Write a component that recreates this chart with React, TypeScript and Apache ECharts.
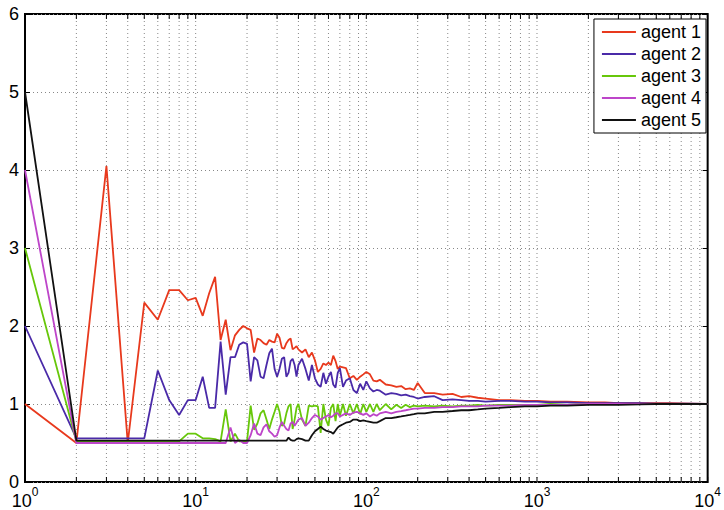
import React, { useEffect, useRef } from "react";
import * as echarts from "echarts";

const xs = [
  1, 2, 3, 4, 5, 6, 7, 8, 9, 10,
  11, 12, 13, 14, 15, 16, 17, 18, 19, 20,
  21, 22, 23, 24, 25, 26, 27, 28, 29, 30,
  31, 32, 33, 34, 35, 36, 37, 38, 39, 40,
  42, 44, 46, 48, 50, 52, 54, 56, 58, 60,
  62, 64, 66, 68, 70, 73, 76, 80, 84, 88,
  92, 96, 100, 105, 110, 115, 120, 130, 140, 150,
  160, 170, 180, 190, 200, 220, 250, 280, 320, 360,
  400, 450, 500, 600, 700, 850, 1000, 1200, 1500, 2000,
  2500, 3000, 4000, 5000, 6000, 8000, 10000,
];

const agent1 = [
  1.0, 0.5, 4.05, 0.5, 2.3, 2.08, 2.46, 2.46, 2.33, 2.36,
  2.13, 2.42, 2.63, 1.82, 2.08, 1.69, 1.88, 1.95, 2.0, 1.97,
  1.95, 1.66, 1.84, 1.82, 1.78, 1.76, 1.82, 1.8, 1.79, 1.9,
  1.85, 1.72, 1.71, 1.78, 1.82, 1.84, 1.7, 1.72, 1.74, 1.7,
  1.66, 1.7, 1.6, 1.66, 1.56, 1.41, 1.45, 1.52, 1.5, 1.53,
  1.5, 1.62, 1.55, 1.45, 1.48, 1.47, 1.46, 1.33, 1.36, 1.31,
  1.35, 1.38, 1.41, 1.38, 1.3, 1.29, 1.31, 1.25, 1.24, 1.22,
  1.23, 1.19, 1.2, 1.18, 1.27, 1.14, 1.14, 1.12, 1.13, 1.09,
  1.1, 1.08, 1.07, 1.05, 1.05, 1.04, 1.04, 1.03, 1.03, 1.02,
  1.02, 1.01, 1.01, 1.01, 1.01, 1.005, 1.0,
];

const agent2 = [
  2.0, 0.56, 0.56, 0.56, 0.56, 1.43, 1.05, 0.86, 1.05, 1.05,
  1.35, 0.95, 0.95, 1.8, 1.12, 1.6, 1.6, 1.76, 1.79, 1.77,
  1.29, 1.6, 1.56, 1.35, 1.33, 1.5, 1.65, 1.71, 1.45, 1.35,
  1.45, 1.58, 1.6, 1.35, 1.4, 1.55, 1.58, 1.5, 1.35, 1.5,
  1.58, 1.45, 1.3, 1.5, 1.33, 1.25, 1.22, 1.4, 1.26, 1.35,
  1.41, 1.25, 1.21, 1.4, 1.46, 1.22, 1.3, 1.33, 1.18, 1.14,
  1.26, 1.18, 1.29, 1.2, 1.16, 1.18, 1.17, 1.12, 1.14, 1.13,
  1.11, 1.12, 1.1, 1.09, 1.07, 1.09, 1.1, 1.05, 1.06, 1.05,
  1.04, 1.04, 1.03, 1.04, 1.04, 1.03, 1.03, 1.02, 1.02, 1.01,
  1.01, 1.01, 1.01, 1.005, 1.005, 1.005, 1.0,
];

const agent3 = [
  3.0, 0.52, 0.52, 0.52, 0.52, 0.52, 0.52, 0.52, 0.62, 0.62,
  0.56, 0.56, 0.55, 0.52, 0.93, 0.52, 0.62, 0.52, 0.52, 0.52,
  0.98, 0.67, 0.75, 0.88, 0.92, 0.8, 0.68, 0.8, 0.9, 1.0,
  0.9, 0.72, 0.75, 0.88, 0.97, 1.0, 0.68, 0.8, 0.95, 1.0,
  0.8, 0.72, 0.98, 0.97, 0.98, 0.97, 0.63, 1.0, 0.8, 0.72,
  0.95, 1.0, 0.78, 1.0, 0.85, 1.0, 0.85, 1.0, 0.88, 1.0,
  0.87, 1.0, 0.9, 1.0, 0.9, 1.0, 0.92, 1.0, 0.93, 0.99,
  0.95, 0.99, 0.96, 0.98, 0.97, 0.98, 0.97, 0.98, 0.97, 0.98,
  0.98, 0.99, 0.98, 0.99, 0.99, 0.99, 0.99, 1.0, 0.99, 1.0,
  1.0, 1.0, 1.0, 1.0, 1.0, 1.0, 1.0,
];

const agent4 = [
  4.0, 0.5, 0.5, 0.5, 0.5, 0.5, 0.5, 0.5, 0.5, 0.5,
  0.5, 0.5, 0.5, 0.5, 0.5, 0.7, 0.5, 0.54, 0.5, 0.5,
  0.6, 0.75, 0.62, 0.6, 0.7, 0.74, 0.65, 0.62, 0.58, 0.6,
  0.7, 0.77, 0.72, 0.68, 0.66, 0.75, 0.77, 0.72, 0.76, 0.8,
  0.82, 0.72, 0.76, 0.82, 0.86, 0.84, 0.8, 0.82, 0.84, 0.86,
  0.83, 0.85, 0.88, 0.88, 0.84, 0.86, 0.88, 0.86, 0.89, 0.9,
  0.88, 0.86, 0.88, 0.84, 0.87, 0.85, 0.88, 0.9, 0.88, 0.9,
  0.91, 0.92, 0.93, 0.94, 0.94, 0.95, 0.95, 0.96, 0.96, 0.97,
  0.97, 0.97, 0.98, 0.98, 0.98, 0.99, 0.99, 0.99, 0.99, 1.0,
  1.0, 1.0, 1.0, 1.0, 1.0, 1.0, 1.0,
];

const agent5 = [
  5.0, 0.53, 0.53, 0.53, 0.53, 0.53, 0.53, 0.53, 0.53, 0.53,
  0.53, 0.53, 0.53, 0.53, 0.53, 0.53, 0.53, 0.53, 0.53, 0.53,
  0.53, 0.53, 0.53, 0.53, 0.53, 0.53, 0.53, 0.53, 0.53, 0.53,
  0.53, 0.53, 0.53, 0.53, 0.57, 0.54, 0.53, 0.53, 0.55, 0.56,
  0.55, 0.53, 0.53, 0.6, 0.65, 0.68, 0.71, 0.68, 0.66, 0.65,
  0.64, 0.62, 0.66, 0.7, 0.72, 0.74, 0.76, 0.77, 0.8, 0.8,
  0.78, 0.79, 0.78, 0.77, 0.76, 0.76, 0.78, 0.82, 0.82, 0.83,
  0.84, 0.85, 0.86, 0.87, 0.88, 0.88, 0.9, 0.9, 0.91, 0.92,
  0.92, 0.93, 0.94, 0.95, 0.96, 0.97, 0.97, 0.98, 0.98, 0.99,
  0.99, 0.99, 0.995, 1.0, 1.0, 1.0, 1.0,
];

const seriesNames = ["agent 1", "agent 2", "agent 3", "agent 4", "agent 5"];
const seriesValues = [agent1, agent2, agent3, agent4, agent5];
const seriesColors = ["#e8391d", "#4a2aa8", "#67c70a", "#bd45c9", "#111111"];

const yMin = 0;
const yMax = 6;
const xMin = 1;
const xMax = 10000;

// positions of the log grid lines (1..9 per decade)
const gridXs: number[] = [];
for (let d = 1; d <= 1000; d *= 10) {
  for (let m = 1; m <= 9; m++) gridXs.push(d * m);
}
gridXs.push(10000);

const FONT = "'Liberation Sans', Arial, Helvetica, sans-serif";

export default function App() {
  const ref = useRef<HTMLDivElement>(null);

  useEffect(() => {
    if (!ref.current) return;
    const chart = echarts.init(ref.current, null, { renderer: "svg" });

    const lineSeries = seriesNames.map((name, i) => ({
      name,
      type: "line",
      data: xs.map((x, j) => [x, seriesValues[i][j]]),
      showSymbol: false,
      symbol: "none",
      silent: true,
      lineStyle: { color: seriesColors[i], width: 1.8 },
      itemStyle: { color: seriesColors[i] },
      z: 3,
    }));

    chart.setOption({
      animation: false,
      textStyle: { fontFamily: FONT },
      grid: {
        left: 25,
        right: 13,
        top: 14,
        bottom: 28,
        show: true,
        borderColor: "#000",
        borderWidth: 2,
        backgroundColor: "transparent",
      },
      legend: {
        data: seriesNames,
        orient: "vertical",
        right: 18,
        top: 19,
        backgroundColor: "#fff",
        borderColor: "#000",
        borderWidth: 1,
        borderRadius: 0,
        padding: [3, 5, 3, 8],
        itemGap: 2,
        itemWidth: 34,
        itemHeight: 2,
        icon: "rect",
        selectedMode: false,
        textStyle: { fontSize: 18, color: "#000", lineHeight: 20, fontFamily: FONT },
        z: 10,
      },
      xAxis: [
        {
          type: "log",
          logBase: 10,
          min: xMin,
          max: xMax,
          splitNumber: 4,
          axisLine: { show: false },
          axisTick: { show: false },
          splitLine: { show: false },
          axisLabel: {
            margin: 4,
            formatter: (v: number) => `{b|10}{s|${Math.round(Math.log10(v))}}`,
            rich: {
              b: { fontSize: 18, color: "#000", fontFamily: FONT, verticalAlign: "bottom", lineHeight: 24 },
              s: { fontSize: 12, color: "#000", fontFamily: FONT, verticalAlign: "top", lineHeight: 24 },
            },
          },
        },
      ],
      yAxis: [
        {
          type: "value",
          min: yMin,
          max: yMax,
          interval: 1,
          axisLine: { show: false },
          axisTick: { show: true, inside: true, length: 5, lineStyle: { color: "#000", width: 1 } },
          splitLine: { show: true, lineStyle: { color: "#888", width: 1, type: [1, 3] } },
          axisLabel: { color: "#000", fontSize: 18, margin: 6, fontFamily: FONT },
        },
        {
          type: "value",
          position: "right",
          min: yMin,
          max: yMax,
          interval: 1,
          axisLine: { show: false },
          axisTick: { show: true, inside: true, length: 5, lineStyle: { color: "#000", width: 1 } },
          splitLine: { show: false },
          axisLabel: { show: false },
        },
      ],
      series: [
        {
          type: "custom",
          silent: true,
          z: 1,
          data: gridXs.map((v) => [v, yMin]),
          encode: { x: 0, y: 1 },
          clip: false,
          renderItem: (_params: any, api: any) => {
            const x = api.value(0);
            const b = api.coord([x, yMin]);
            const t = api.coord([x, yMax]);
            const children: any[] = [];
            if (x !== xMin && x !== xMax) {
              children.push({
                type: "line",
                shape: { x1: b[0], y1: b[1], x2: t[0], y2: t[1] },
                style: { stroke: "#888", lineWidth: 1, lineDash: [1, 3] },
              });
            }
            children.push({
              type: "line",
              shape: { x1: b[0], y1: b[1], x2: b[0], y2: b[1] - 5 },
              style: { stroke: "#000", lineWidth: 1 },
            });
            children.push({
              type: "line",
              shape: { x1: t[0], y1: t[1], x2: t[0], y2: t[1] + 5 },
              style: { stroke: "#000", lineWidth: 1 },
            });
            return { type: "group", children };
          },
        },
        ...lineSeries,
      ],
    });

    return () => chart.dispose();
  }, []);

  return (
    <div
      ref={ref}
      style={{ position: "fixed", left: 0, top: 0, width: 724, height: 510, background: "#fff" }}
    />
  );
}
